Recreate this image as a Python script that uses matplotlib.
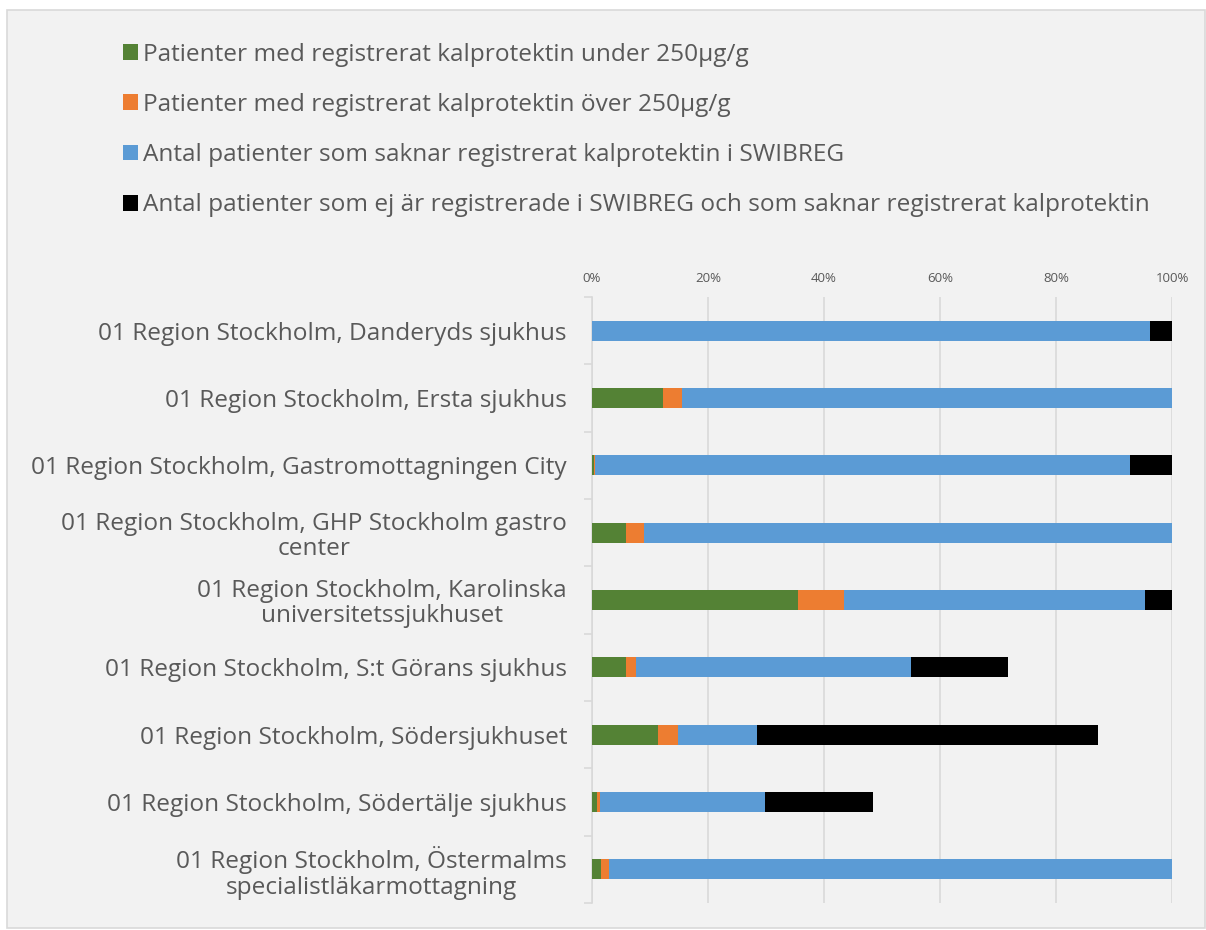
import matplotlib
matplotlib.use("Agg")
import matplotlib.pyplot as plt
from matplotlib.patches import Rectangle
from matplotlib.ticker import PercentFormatter
import numpy as np

categories = [
    "01 Region Stockholm, Danderyds sjukhus",
    "01 Region Stockholm, Ersta sjukhus",
    "01 Region Stockholm, Gastromottagningen City",
    "01 Region Stockholm, GHP Stockholm gastro\ncenter",
    "01 Region Stockholm, Karolinska\nuniversitetssjukhuset",
    "01 Region Stockholm, S:t Görans sjukhus",
    "01 Region Stockholm, Södersjukhuset",
    "01 Region Stockholm, Södertälje sjukhus",
    "01 Region Stockholm, Östermalms\nspecialistläkarmottagning",
]
series_names = [
    "Patienter med registrerat kalprotektin under 250µg/g",
    "Patienter med registrerat kalprotektin över 250µg/g",
    "Antal patienter som saknar registrerat kalprotektin i SWIBREG",
    "Antal patienter som ej är registrerade i SWIBREG och som saknar registrerat kalprotektin",
]
under_250 = [0.0, 12.3, 0.4, 5.9, 35.5, 5.8, 11.4, 0.9, 1.6]
over_250 = [0.0, 3.2, 0.2, 3.0, 8.0, 1.8, 3.4, 0.4, 1.3]
missing_swibreg = [96.2, 84.5, 92.1, 91.1, 51.9, 47.4, 13.7, 28.6, 97.1]
not_registered = [3.8, 0.0, 7.3, 0.0, 4.6, 16.8, 58.7, 18.6, 0.0]
xticks = [0, 20, 40, 60, 80, 100]

colors = ["#548235", "#ED7D31", "#5B9BD5", "#000000"]
text_color = "#595959"
plt.rcParams["font.family"] = ["Open Sans", "DejaVu Sans"]

fig = plt.figure(figsize=(12.06, 9.30), dpi=100, facecolor="white")
fig.patches.append(Rectangle((7 / 1206, 1 - 928 / 930), 1198 / 1206, 918 / 930,
                             transform=fig.transFigure, facecolor="#F2F2F2",
                             edgecolor="#D9D9D9", linewidth=1.2, zorder=-10))

ax = fig.add_axes([592 / 1206, 1 - 903 / 930, 580 / 1206, 606 / 930])
ax.set_facecolor("none")

y = np.arange(len(categories))
series = [under_250, over_250, missing_swibreg, not_registered]
left = np.zeros(len(categories))
handles = []
for vals, col, name in zip(series, colors, series_names):
    vals = np.array(vals)
    h = ax.barh(y, vals, left=left, height=0.3, color=col, label=name, zorder=3)
    handles.append(h)
    left = left + vals

ax.set_ylim(len(categories) - 0.5, -0.5)
ax.set_xlim(0, 100)
ax.set_xticks(xticks)
ax.xaxis.set_major_formatter(PercentFormatter(decimals=0))
ax.xaxis.tick_top()
ax.tick_params(axis="x", length=0, labelsize=9.5, labelcolor=text_color, pad=9)
ax.grid(axis="x", color="#D9D9D9", linewidth=1.2, zorder=0)

ax.set_yticks(y)
ax.set_yticklabels(categories, fontsize=17.6, color=text_color, ha="right",
                   multialignment="center", linespacing=1.08)
ax.set_yticks(np.arange(len(categories) + 1) - 0.5, minor=True)
ax.tick_params(axis="y", which="major", length=0, pad=18)
ax.tick_params(axis="y", which="minor", length=6, color="#D9D9D9", width=1.2)
for s in ["top", "right", "bottom"]:
    ax.spines[s].set_visible(False)
ax.spines["left"].set_color("#D9D9D9")
ax.spines["left"].set_linewidth(1.2)

leg = fig.legend(handles=handles, loc="upper left",
                 bbox_to_anchor=(113 / 1206, 1 - 33 / 930), frameon=False,
                 fontsize=17.6, labelcolor=text_color, handlelength=0.62,
                 handleheight=0.62, handletextpad=0.2, labelspacing=1.07,
                 borderaxespad=0)

fig.savefig("out.png", dpi=100, facecolor="white")
